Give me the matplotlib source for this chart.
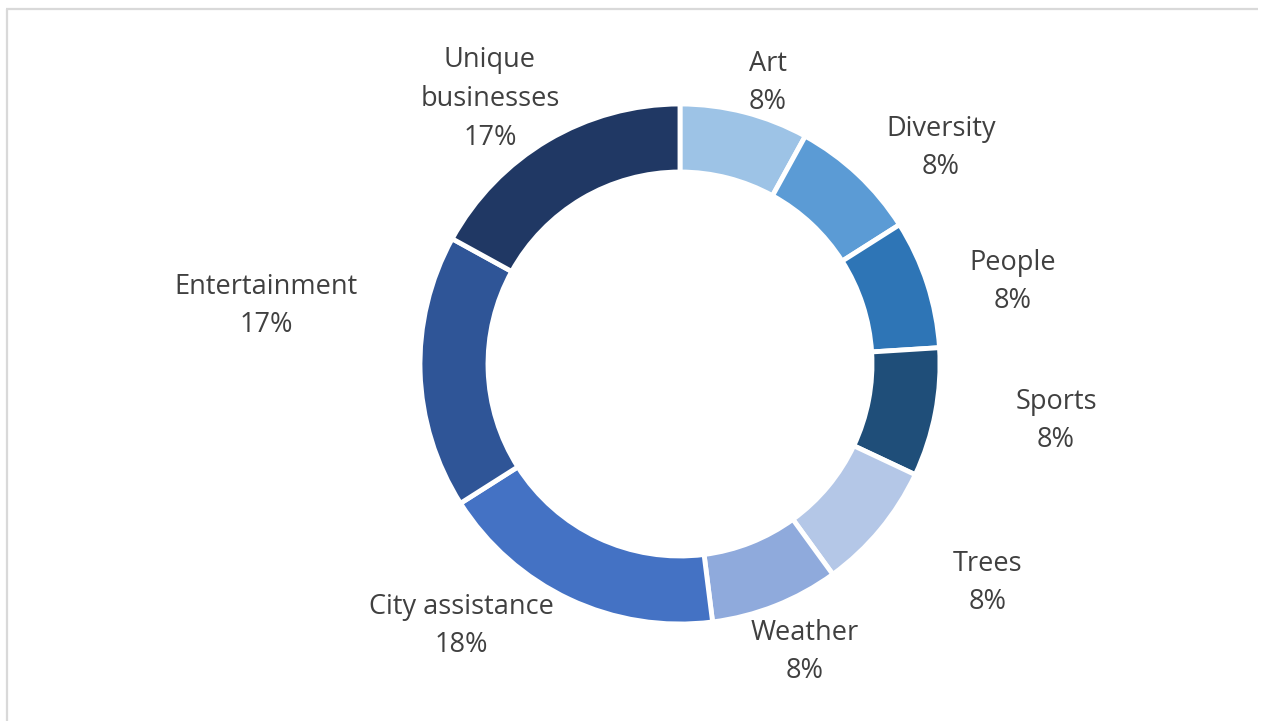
import matplotlib
matplotlib.use("Agg")
import matplotlib.pyplot as plt
from matplotlib.lines import Line2D

categories = ["Art", "Diversity", "People", "Sports", "Trees", "Weather",
              "City assistance", "Entertainment", "Unique businesses"]
values = [8, 8, 8, 8, 8, 8, 18, 17, 17]
label_texts = ["Art", "Diversity", "People", "Sports", "Trees", "Weather",
               "City assistance", "Entertainment", "Unique\nbusinesses"]
colors = ["#9DC3E6", "#5B9BD5", "#2E75B6", "#1F4E79", "#B4C7E7", "#8FAADC",
          "#4472C4", "#2F5597", "#203864"]

# layout: label centres in pixel coordinates (x, y from top)
label_pos = [(768, 83), (941, 148), (1013, 282), (1056, 421), (988, 583),
             (805, 652), (461, 626), (266, 306), (490, 99)]

W, H = 1262, 721
fig = plt.figure(figsize=(W / 100, H / 100), dpi=100)
ax = fig.add_axes([0, 0, 1, 1])

cx, cy, R = 680, H - 364, 260
ring = 68
ax.pie(values, colors=colors, startangle=90, counterclock=False,
       center=(cx, cy), radius=R, frame=True,
       wedgeprops=dict(width=ring, edgecolor="white", linewidth=3.5))
ax.set_xlim(0, W)
ax.set_ylim(0, H)
ax.set_aspect("equal")
ax.axis("off")

# chart frame (only top and left edges visible)
frame_kw = dict(color="#D9D9D9", linewidth=1.6, solid_capstyle="butt")
ax.add_line(Line2D([7, 7], [-10, H - 9], **frame_kw))
ax.add_line(Line2D([6.4, W - 4], [H - 9, H - 9], **frame_kw))

total = sum(values)
for txt, v, (lx, ly) in zip(label_texts, values, label_pos):
    ax.text(lx, H - ly, f"{txt}\n{round(100 * v / total)}%", ha="center",
            va="center", fontsize=19.5, color="#404040",
            family="Open Sans", linespacing=1.52)

fig.savefig("out.png", dpi=100)
